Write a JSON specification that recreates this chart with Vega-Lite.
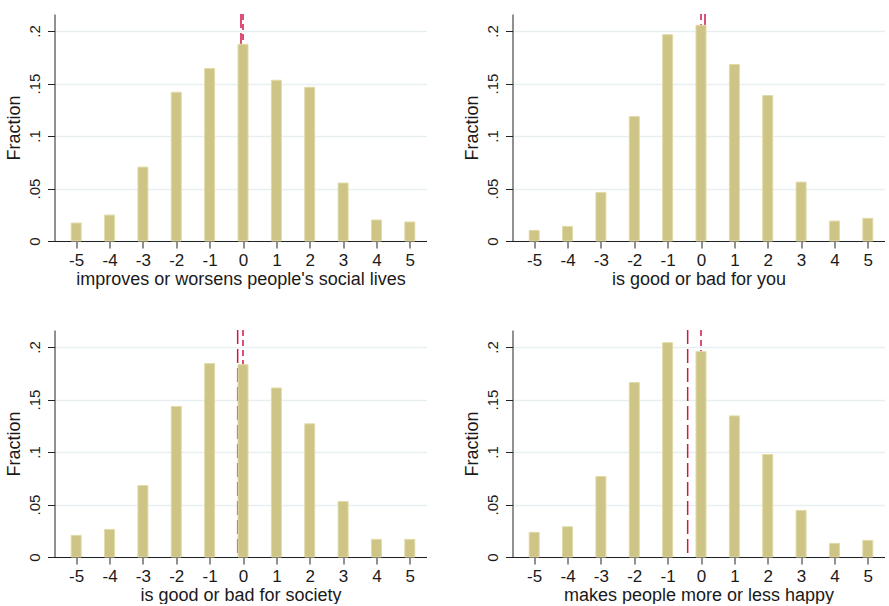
{
  "$schema": "https://vega.github.io/schema/vega-lite/v6.json",
  "padding": {"left": 4.5, "top": 13, "right": 0, "bottom": 0},
  "background": "white",
  "datasets": {
    "hist": [
      {"item": "social", "score": -5, "fraction": 0.0171},
      {"item": "social", "score": -4, "fraction": 0.0247},
      {"item": "social", "score": -3, "fraction": 0.0704},
      {"item": "social", "score": -2, "fraction": 0.1417},
      {"item": "social", "score": -1, "fraction": 0.1642},
      {"item": "social", "score": 0, "fraction": 0.1873},
      {"item": "social", "score": 1, "fraction": 0.1531},
      {"item": "social", "score": 2, "fraction": 0.1464},
      {"item": "social", "score": 3, "fraction": 0.0552},
      {"item": "social", "score": 4, "fraction": 0.0200},
      {"item": "social", "score": 5, "fraction": 0.0181},
      {"item": "you", "score": -5, "fraction": 0.0101},
      {"item": "you", "score": -4, "fraction": 0.0139},
      {"item": "you", "score": -3, "fraction": 0.0463},
      {"item": "you", "score": -2, "fraction": 0.1185},
      {"item": "you", "score": -1, "fraction": 0.1965},
      {"item": "you", "score": 0, "fraction": 0.2054},
      {"item": "you", "score": 1, "fraction": 0.1680},
      {"item": "you", "score": 2, "fraction": 0.1385},
      {"item": "you", "score": 3, "fraction": 0.0561},
      {"item": "you", "score": 4, "fraction": 0.0190},
      {"item": "you", "score": 5, "fraction": 0.0216},
      {"item": "society", "score": -5, "fraction": 0.0206},
      {"item": "society", "score": -4, "fraction": 0.0263},
      {"item": "society", "score": -3, "fraction": 0.0681},
      {"item": "society", "score": -2, "fraction": 0.1433},
      {"item": "society", "score": -1, "fraction": 0.1842},
      {"item": "society", "score": 0, "fraction": 0.1832},
      {"item": "society", "score": 1, "fraction": 0.1610},
      {"item": "society", "score": 2, "fraction": 0.1268},
      {"item": "society", "score": 3, "fraction": 0.0529},
      {"item": "society", "score": 4, "fraction": 0.0168},
      {"item": "society", "score": 5, "fraction": 0.0168},
      {"item": "happy", "score": -5, "fraction": 0.0235},
      {"item": "happy", "score": -4, "fraction": 0.0288},
      {"item": "happy", "score": -3, "fraction": 0.0767},
      {"item": "happy", "score": -2, "fraction": 0.1661},
      {"item": "happy", "score": -1, "fraction": 0.2041},
      {"item": "happy", "score": 0, "fraction": 0.1956},
      {"item": "happy", "score": 1, "fraction": 0.1344},
      {"item": "happy", "score": 2, "fraction": 0.0976},
      {"item": "happy", "score": 3, "fraction": 0.0444},
      {"item": "happy", "score": 4, "fraction": 0.0130},
      {"item": "happy", "score": 5, "fraction": 0.0158}
    ],
    "stats": [
      {"item": "social", "stat": "mean", "score": -0.06},
      {"item": "social", "stat": "median", "score": 0},
      {"item": "you", "stat": "mean", "score": 0.12},
      {"item": "you", "stat": "median", "score": 0},
      {"item": "society", "stat": "mean", "score": -0.16},
      {"item": "society", "stat": "median", "score": 0},
      {"item": "happy", "stat": "mean", "score": -0.40},
      {"item": "happy", "stat": "median", "score": 0}
    ]
  },
  "bounds": "flush",
  "columns": 2,
  "spacing": {"column": 86, "row": 89},
  "concat": [
    {
      "width": 372, "height": 227,
      "encoding": {
        "x": {"field": "score", "type": "quantitative", "title": "improves or worsens people's social lives",
              "scale": {"domain": [-5.5, 5.35], "nice": false, "zero": false}}
      },
      "layer": [
        {"data": {"name": "stats"}, "transform": [{"filter": "datum.item === 'social'"}],
         "mark": {"type": "rule", "color": "#d1174a", "strokeWidth": 1.5},
         "encoding": {"strokeDash": {"field": "stat", "type": "nominal", "legend": null,
                                     "scale": {"domain": ["mean", "median"], "range": [[14, 5], [6, 4]]}}}},
        {"data": {"name": "hist"}, "transform": [{"filter": "datum.item === 'social'"}],
         "mark": {"type": "bar", "width": 10, "fill": "#cdc486", "stroke": "#e0dba8", "strokeWidth": 1},
         "encoding": {"y": {"field": "fraction", "type": "quantitative", "title": "Fraction",
                            "scale": {"domain": [0, 0.2162], "nice": false}}}}
      ]
    },
    {
      "width": 372, "height": 227,
      "encoding": {
        "x": {"field": "score", "type": "quantitative", "title": "is good or bad for you",
              "scale": {"domain": [-5.5, 5.35], "nice": false, "zero": false}}
      },
      "layer": [
        {"data": {"name": "stats"}, "transform": [{"filter": "datum.item === 'you'"}],
         "mark": {"type": "rule", "color": "#d1174a", "strokeWidth": 1.5},
         "encoding": {"strokeDash": {"field": "stat", "type": "nominal", "legend": null,
                                     "scale": {"domain": ["mean", "median"], "range": [[14, 5], [6, 4]]}}}},
        {"data": {"name": "hist"}, "transform": [{"filter": "datum.item === 'you'"}],
         "mark": {"type": "bar", "width": 10, "fill": "#cdc486", "stroke": "#e0dba8", "strokeWidth": 1},
         "encoding": {"y": {"field": "fraction", "type": "quantitative", "title": "Fraction",
                            "scale": {"domain": [0, 0.2162], "nice": false}}}}
      ]
    },
    {
      "width": 372, "height": 227,
      "encoding": {
        "x": {"field": "score", "type": "quantitative", "title": "is good or bad for society",
              "scale": {"domain": [-5.5, 5.35], "nice": false, "zero": false}}
      },
      "layer": [
        {"data": {"name": "stats"}, "transform": [{"filter": "datum.item === 'society'"}],
         "mark": {"type": "rule", "color": "#d1174a", "strokeWidth": 1.5},
         "encoding": {"strokeDash": {"field": "stat", "type": "nominal", "legend": null,
                                     "scale": {"domain": ["mean", "median"], "range": [[14, 5], [6, 4]]}}}},
        {"data": {"name": "hist"}, "transform": [{"filter": "datum.item === 'society'"}],
         "mark": {"type": "bar", "width": 10, "fill": "#cdc486", "stroke": "#e0dba8", "strokeWidth": 1},
         "encoding": {"y": {"field": "fraction", "type": "quantitative", "title": "Fraction",
                            "scale": {"domain": [0, 0.2162], "nice": false}}}}
      ]
    },
    {
      "width": 372, "height": 227,
      "encoding": {
        "x": {"field": "score", "type": "quantitative", "title": "makes people more or less happy",
              "scale": {"domain": [-5.5, 5.35], "nice": false, "zero": false}}
      },
      "layer": [
        {"data": {"name": "stats"}, "transform": [{"filter": "datum.item === 'happy'"}],
         "mark": {"type": "rule", "color": "#d1174a", "strokeWidth": 1.5},
         "encoding": {"strokeDash": {"field": "stat", "type": "nominal", "legend": null,
                                     "scale": {"domain": ["mean", "median"], "range": [[14, 5], [6, 4]]}}}},
        {"data": {"name": "hist"}, "transform": [{"filter": "datum.item === 'happy'"}],
         "mark": {"type": "bar", "width": 10, "fill": "#cdc486", "stroke": "#e0dba8", "strokeWidth": 1},
         "encoding": {"y": {"field": "fraction", "type": "quantitative", "title": "Fraction",
                            "scale": {"domain": [0, 0.2162], "nice": false}}}}
      ]
    }
  ],
  "config": {
    "view": {"stroke": null},
    "font": "Liberation Sans",
    "axis": {
      "labelFont": "Liberation Sans", "titleFont": "Liberation Sans",
      "labelFontSize": 17, "titleFontSize": 18, "titleFontWeight": "normal",
      "labelColor": "#1a1a1a", "titleColor": "#1a1a1a",
      "domainColor": "#222222", "tickColor": "#222222",
      "domainWidth": 1, "tickWidth": 1, "tickSize": 7
    },
    "axisX": {
      "grid": false, "values": [-5, -4, -3, -2, -1, 0, 1, 2, 3, 4, 5],
      "labelExpr": "'' + datum.value",
      "labelPadding": 4, "titlePadding": 2, "labelFlush": false, "labelOverlap": false
    },
    "axisY": {
      "gridColor": "#e8eff1", "gridWidth": 1.3,
      "values": [0, 0.05, 0.1, 0.15, 0.2],
      "labelFontSize": 15,
      "labelAngle": 270, "labelAlign": "center", "labelBaseline": "bottom",
      "labelExpr": "replace(format(datum.value, '.2~f'), '0.', '.')",
      "labelPadding": 5, "titlePadding": 4, "labelFlush": false, "labelOverlap": false
    }
  }
}
